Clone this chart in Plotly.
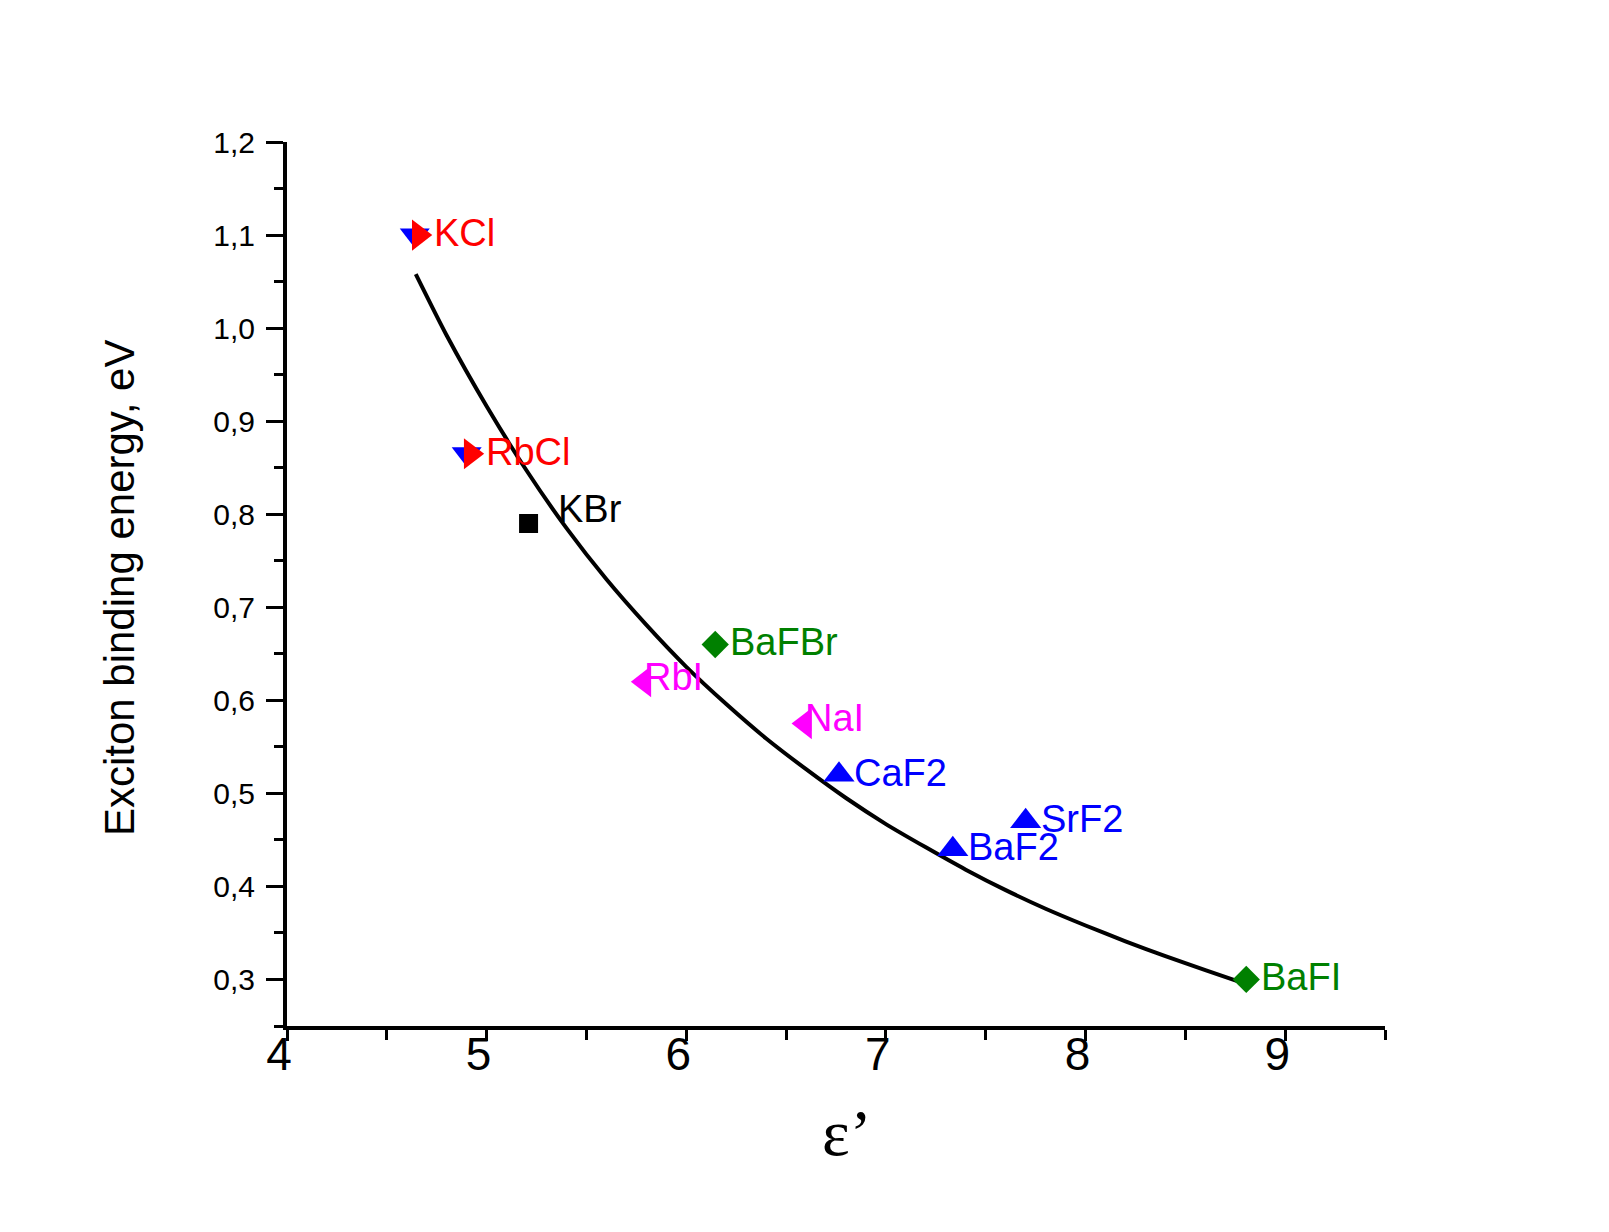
import plotly.graph_objects as go

# ---- data ----
kbr_x = [5.21]
kbr_y = [0.79]
kbr_names = ["KBr"]

alkcl_down_x = [4.64, 4.90]
alkcl_down_y = [1.10, 0.865]

alkcl_x = [4.66, 4.92]
alkcl_y = [1.10, 0.865]
alkcl_names = ["KCl", "RbCl"]

bafx_x = [6.145, 8.805]
bafx_y = [0.66, 0.30]
bafx_names = ["BaFBr", "BaFI"]

iodide_x = [5.79, 6.595]
iodide_y = [0.62, 0.575]
iodide_names = ["RbI", "NaI"]

fluor_x = [6.765, 7.335, 7.70]
fluor_y = [0.52, 0.44, 0.47]
fluor_names = ["CaF2", "BaF2", "SrF2"]

curve_x = [4.645, 4.8, 5.0, 5.2, 5.4, 5.6, 5.8, 6.0, 6.2, 6.4, 6.6, 6.8, 7.0, 7.2, 7.4, 7.6, 7.8, 8.0, 8.2, 8.4, 8.6, 8.79]
curve_y = [1.058, 0.992, 0.916, 0.847, 0.785, 0.730, 0.681, 0.636, 0.596, 0.559, 0.526, 0.495, 0.467, 0.442, 0.418, 0.396, 0.376, 0.358, 0.341, 0.325, 0.310, 0.296]

x_ticks = [4, 5, 6, 7, 8, 9]
y_ticks = [0.3, 0.4, 0.5, 0.6, 0.7, 0.8, 0.9, 1.0, 1.1, 1.2]

SANS = "Liberation Sans, Arial, sans-serif"
RED = "#FF0000"
BLUE = "#0000FF"
MAG = "#FF00FF"
GREEN = "#008000"

fig = go.Figure()

fig.add_trace(go.Scatter(x=curve_x, y=curve_y, mode="lines",
                         line=dict(color="black", width=4, shape="spline", smoothing=0.6),
                         showlegend=False, hoverinfo="skip"))

fig.add_trace(go.Scatter(x=kbr_x, y=kbr_y, mode="markers",
                         marker=dict(symbol="square", size=19, color="black"), showlegend=False))
fig.add_trace(go.Scatter(x=alkcl_down_x, y=alkcl_down_y, mode="markers",
                         marker=dict(symbol="triangle-down", size=26, color=BLUE), showlegend=False))
fig.add_trace(go.Scatter(x=alkcl_x, y=alkcl_y, mode="markers",
                         marker=dict(symbol="triangle-right", size=27, color=RED), showlegend=False))
fig.add_trace(go.Scatter(x=bafx_x, y=bafx_y, mode="markers",
                         marker=dict(symbol="diamond", size=21, color=GREEN), showlegend=False))
fig.add_trace(go.Scatter(x=iodide_x, y=iodide_y, mode="markers",
                         marker=dict(symbol="triangle-left", size=27, color=MAG), showlegend=False))
fig.add_trace(go.Scatter(x=fluor_x, y=fluor_y, mode="markers",
                         marker=dict(symbol="triangle-up", size=27, color=BLUE), showlegend=False))

# point labels
special_shift = {"KBr": (27, 15), "RbI": (-2, 5), "NaI": (-2, 6)}
annotations = []
for xs, ys, names, col in [(kbr_x, kbr_y, kbr_names, "black"),
                           (alkcl_x, alkcl_y, alkcl_names, RED),
                           (bafx_x, bafx_y, bafx_names, GREEN),
                           (iodide_x, iodide_y, iodide_names, MAG),
                           (fluor_x, fluor_y, fluor_names, BLUE)]:
    for x, y, n in zip(xs, ys, names):
        dx, dy = special_shift.get(n, (13, 2))
        annotations.append(dict(x=x, y=y, xref="x", yref="y", text=n, showarrow=False,
                                xanchor="left", yanchor="middle", xshift=dx, yshift=dy,
                                font=dict(family=SANS, size=38, color=col)))

annotations.append(dict(x=-0.152, y=0.4955, xref="paper", yref="paper",
                        text="Exciton binding energy, eV", textangle=-90, showarrow=False,
                        xanchor="center", yanchor="middle",
                        font=dict(family=SANS, size=42, color="black")))
annotations.append(dict(x=0.51, y=-0.12, xref="paper", yref="paper",
                        text="ε’", showarrow=False, xanchor="center", yanchor="middle",
                        font=dict(family="Liberation Serif, Times New Roman, serif", size=66, color="black")))

fig.update_layout(
    width=1609, height=1232,
    margin=dict(l=287, r=224, t=142, b=206),
    paper_bgcolor="white", plot_bgcolor="white",
    separators=", ",
    annotations=annotations,
    showlegend=False,
)

fig.update_xaxes(range=[4, 9.5], tickvals=x_ticks, ticktext=[str(v) for v in x_ticks],
                 showline=True, linecolor="black", linewidth=4, mirror=False,
                 ticks="outside", ticklen=11, tickwidth=3, tickcolor="black",
                 minor=dict(ticks="outside", ticklen=10, tickwidth=3, tickcolor="black", dtick=0.5, showgrid=False),
                 showgrid=False, zeroline=False,
                 tickfont=dict(family=SANS, size=46, color="black"),
                 ticklabelshift=-8, ticklabelstandoff=-26)

fig.update_yaxes(range=[0.25, 1.2], tickvals=y_ticks, tickformat=".1f",
                 showline=True, linecolor="black", linewidth=4, mirror=False,
                 ticks="outside", ticklen=17, tickwidth=3, tickcolor="black",
                 minor=dict(ticks="outside", ticklen=9, tickwidth=3, tickcolor="black", dtick=0.05, showgrid=False),
                 showgrid=False, zeroline=False,
                 tickfont=dict(family=SANS, size=30, color="black"),
                 ticklabelstandoff=5)

fig.write_html("out.html")
